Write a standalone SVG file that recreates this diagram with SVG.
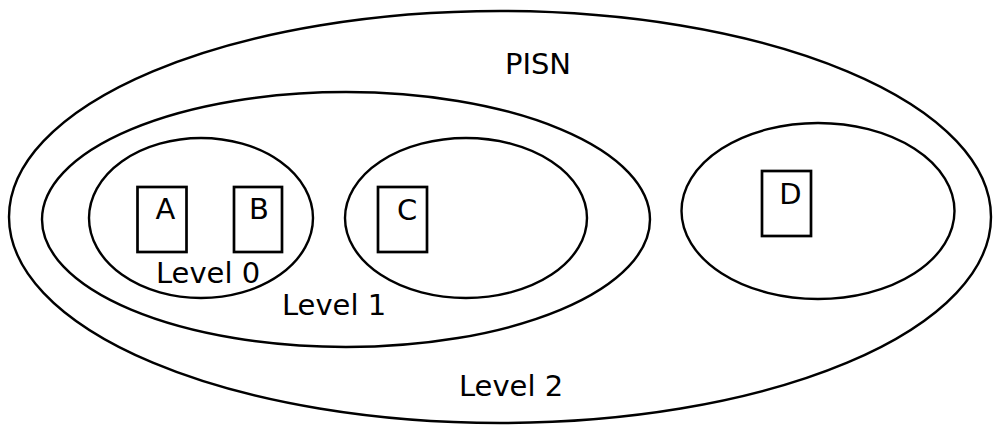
<svg xmlns="http://www.w3.org/2000/svg" width="993" height="425" viewBox="0 0 993 425">
  <style>
    .region { fill: none; stroke: #000; stroke-width: 2.4; }
    .box { fill: #fff; stroke: #000; stroke-width: 2.7; }
    .label { font-family: "DejaVu Sans", "Liberation Sans", sans-serif; font-size: 29px; fill: #000; text-anchor: middle; }
  </style>
  <rect width="993" height="425" fill="#fff"/>

  <!-- Level 2: whole PISN -->
  <g id="level2">
    <ellipse class="region" cx="500" cy="217" rx="491" ry="206"/>
    <text class="label" x="538" y="74">PISN</text>
    <text class="label" x="511" y="396">Level 2</text>
  </g>

  <!-- Level 1 -->
  <g id="level1">
    <ellipse class="region" cx="346" cy="219.5" rx="304" ry="127.5"/>
    <text class="label" x="334" y="315">Level 1</text>
  </g>

  <!-- Level 0 -->
  <g id="level0">
    <ellipse class="region" cx="201" cy="218" rx="112" ry="80"/>
    <text class="label" x="208" y="283">Level 0</text>
  </g>

  <!-- Domain holding C -->
  <g id="domainC">
    <ellipse class="region" cx="466" cy="218" rx="121" ry="80"/>
  </g>

  <!-- Domain holding D -->
  <g id="domainD">
    <ellipse class="region" cx="818" cy="211" rx="136.5" ry="88"/>
  </g>

  <!-- Nodes -->
  <g id="nodeA">
    <rect class="box" x="137.5" y="187" width="49" height="65"/>
    <text class="label" x="165.5" y="219">A</text>
  </g>
  <g id="nodeB">
    <rect class="box" x="234" y="187" width="48" height="65"/>
    <text class="label" x="259" y="219">B</text>
  </g>
  <g id="nodeC">
    <rect class="box" x="378" y="187" width="49" height="65"/>
    <text class="label" x="407" y="220">C</text>
  </g>
  <g id="nodeD">
    <rect class="box" x="762" y="171" width="49" height="65"/>
    <text class="label" x="790.5" y="204">D</text>
  </g>

  <g id="connectors"></g>
</svg>
